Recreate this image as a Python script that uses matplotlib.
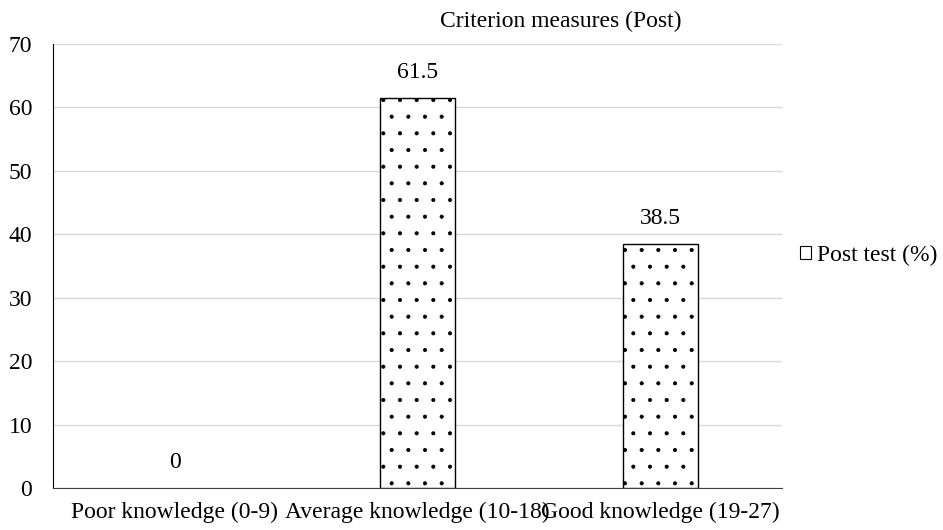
import matplotlib
matplotlib.use("Agg")
import matplotlib.pyplot as plt

categories = ["Poor knowledge (0-9)", "Average knowledge (10-18)", "Good knowledge (19-27)"]
post_test = [0, 61.5, 38.5]
y_ticks = [0, 10, 20, 30, 40, 50, 60, 70]

plt.rcParams['font.family'] = ['Liberation Serif', 'DejaVu Serif']
plt.rcParams['hatch.linewidth'] = 0.5

fs = 17
fig = plt.figure(figsize=(9.43, 5.3), dpi=100)
ax = fig.add_axes([53/943, 1 - 488/530, 729/943, 444/530])

x = range(len(categories))
bars = ax.bar(x, post_test, width=0.31, facecolor="white", edgecolor="black",
              hatch=".", linewidth=1.0, label="Post test (%)", zorder=3)
for b, v in zip(bars, post_test):
    if v == 0:
        b.set_visible(False)

for xi, v in zip(x, post_test):
    ax.text(xi, v + 2.3, f"{v:g}", ha="center", va="bottom", fontsize=fs)

ax.set_xlim(-0.5, 2.5)
ax.set_ylim(0, 70)
ax.set_yticks(y_ticks)
ax.set_xticks(list(x))
ax.set_xticklabels(categories, fontsize=fs)
ax.tick_params(axis="y", labelsize=fs, length=0, pad=15)
ax.tick_params(axis="x", length=0, pad=10)
ax.grid(axis="y", color="#d9d9d9", linewidth=1.0, zorder=0)
for s in ["top", "right"]:
    ax.spines[s].set_visible(False)
ax.spines["left"].set_color("black")
ax.spines["bottom"].set_color("#404040")

fig.text(561/943, 1 - 21/530, "Criterion measures (Post)", ha="center", va="center", fontsize=fs)

fig.legend(handles=[bars], labels=["Post test (%)"], loc="center left",
           bbox_to_anchor=(800/943, 1 - 255/530), frameon=False, fontsize=fs,
           handlelength=0.45, handleheight=0.45, handletextpad=0.25, borderpad=0.0,
           borderaxespad=0.0)
for p in fig.legends[0].get_patches():
    p.set_hatch(None)
    p.set_visible(True)
    p.set_linewidth(0.8)

fig.savefig("out.png", dpi=100)
